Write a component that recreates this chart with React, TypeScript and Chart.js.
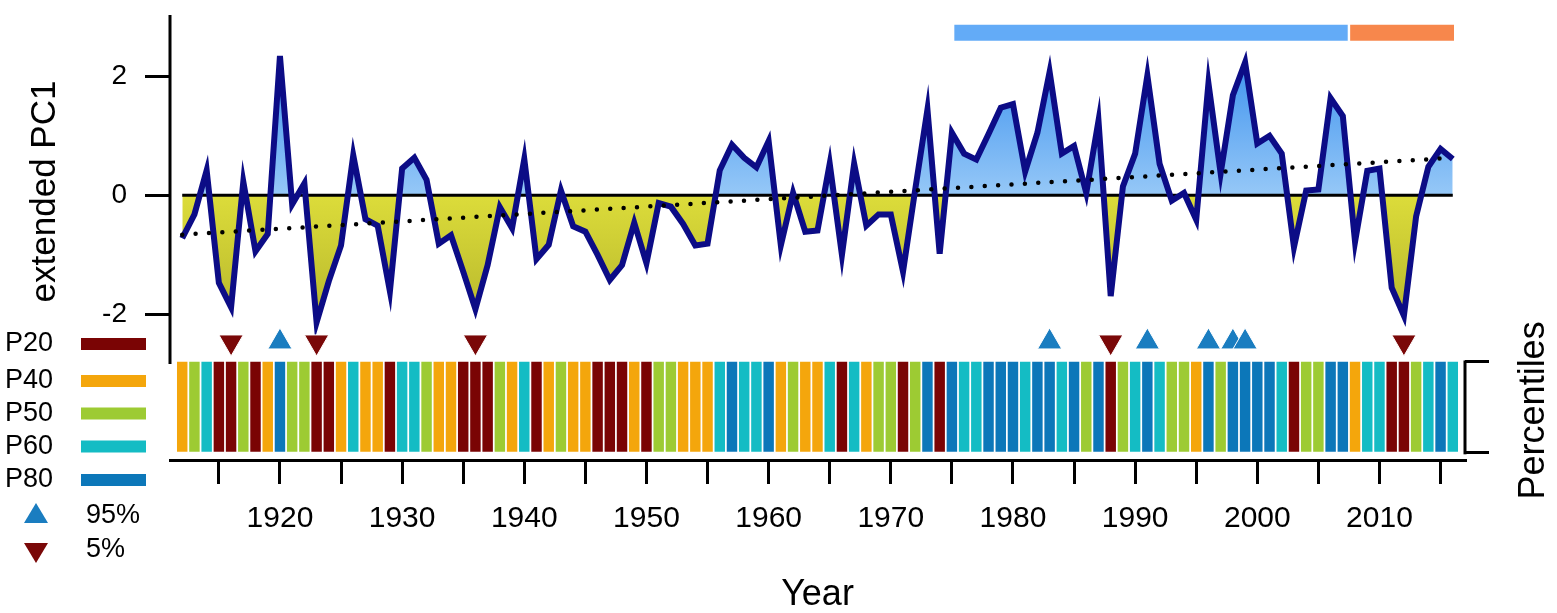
import React, { useEffect, useRef } from "react";
import { Chart, registerables } from "chart.js";

Chart.register(...registerables);

// ---- data ----
const years = [
  1912, 1913, 1914, 1915, 1916, 1917, 1918, 1919, 1920, 1921, 1922, 1923, 1924, 1925, 1926,
  1927, 1928, 1929, 1930, 1931, 1932, 1933, 1934, 1935, 1936, 1937, 1938, 1939, 1940, 1941,
  1942, 1943, 1944, 1945, 1946, 1947, 1948, 1949, 1950, 1951, 1952, 1953, 1954, 1955, 1956,
  1957, 1958, 1959, 1960, 1961, 1962, 1963, 1964, 1965, 1966, 1967, 1968, 1969, 1970, 1971,
  1972, 1973, 1974, 1975, 1976, 1977, 1978, 1979, 1980, 1981, 1982, 1983, 1984, 1985, 1986,
  1987, 1988, 1989, 1990, 1991, 1992, 1993, 1994, 1995, 1996, 1997, 1998, 1999, 2000, 2001,
  2002, 2003, 2004, 2005, 2006, 2007, 2008, 2009, 2010, 2011, 2012, 2013, 2014, 2015, 2016,
];

const pc1 = [
  -0.72, -0.32, 0.42, -1.47, -1.88, 0.23, -0.94, -0.65, 2.34, -0.15, 0.2, -2.13, -1.44, -0.84, 0.67,
  -0.4, -0.51, -1.61, 0.45, 0.63, 0.26, -0.81, -0.67, -1.28, -1.91, -1.17, -0.2, -0.55, 0.61, -1.07,
  -0.83, 0.08, -0.52, -0.61, -1.0, -1.42, -1.17, -0.46, -1.14, -0.13, -0.19, -0.48, -0.84, -0.81, 0.42,
  0.85, 0.63, 0.47, 0.91, -0.84, 0.04, -0.61, -0.59, 0.53, -1.0, 0.53, -0.51, -0.32, -0.32, -1.28,
  0.1, 1.44, -0.98, 1.05, 0.7, 0.6, 1.03, 1.47, 1.53, 0.4, 1.05, 2.07, 0.7, 0.83, 0.04,
  1.25, -1.69, 0.15, 0.7, 2.01, 0.53, -0.09, 0.04, -0.41, 1.88, 0.37, 1.68, 2.23, 0.87, 1.0,
  0.7, -0.87, 0.08, 0.1, 1.63, 1.33, -0.78, 0.41, 0.45, -1.55, -2.02, -0.35, 0.48, 0.78, 0.61,
];

const percentileClass = [
  "P40", "P50", "P60", "P20", "P20", "P50", "P20", "P40", "P80", "P50", "P50", "P20", "P20", "P40", "P60",
  "P40", "P40", "P20", "P60", "P60", "P50", "P40", "P40", "P20", "P20", "P20", "P50", "P40", "P60", "P20",
  "P40", "P50", "P40", "P40", "P20", "P20", "P20", "P40", "P20", "P50", "P50", "P40", "P40", "P40", "P60",
  "P80", "P60", "P60", "P80", "P40", "P50", "P40", "P40", "P60", "P20", "P60", "P40", "P50", "P50", "P20",
  "P50", "P80", "P20", "P80", "P60", "P60", "P80", "P80", "P80", "P60", "P80", "P80", "P60", "P80", "P50",
  "P80", "P20", "P50", "P60", "P80", "P60", "P50", "P50", "P40", "P80", "P50", "P80", "P80", "P80", "P80",
  "P60", "P20", "P50", "P50", "P80", "P80", "P40", "P60", "P60", "P20", "P20", "P50", "P60", "P80", "P60",
];

const pctLabels = ["P20", "P40", "P50", "P60", "P80"];
const upYears = [1920, 1983, 1991, 1996, 1998, 1999];
const downYears = [1916, 1923, 1936, 1988, 2012];
const trendYears = [1912, 2016];
const trendValues = [-0.66, 0.63];
const periodStart = [1975.2, 2007.6];
const periodEnd = [2007.4, 2016.1];
const yTicks = [-2, 0, 2];
const xTicks = [
  1915, 1920, 1925, 1930, 1935, 1940, 1945, 1950, 1955, 1960, 1965,
  1970, 1975, 1980, 1985, 1990, 1995, 2000, 2005, 2010, 2015,
];

// ---- styles ----
const FONT = '"Liberation Sans", Arial, sans-serif';
const pctColors = ["#7a0404", "#f4a60c", "#9dcb33", "#14bcc4", "#0c77b9"];
const periodColors = ["#63abf7", "#f7874c"];
const LINE_COLOR = "#0c0c86";
const UP_COLOR = "#1a7dc0";
const DOWN_COLOR = "#7a0808";
const PERIOD_Y = 2.73;
const MARKER_Y = -2.46;
const Y_AXIS_END = -2.83;

const App: React.FC = () => {
  const canvasRef = useRef<HTMLCanvasElement | null>(null);
  const chartRef = useRef<Chart | null>(null);

  useEffect(() => {
    if (!canvasRef.current) return;

    const decor = {
      id: "decor",
      afterDraw(chart: any) {
        const { ctx, chartArea, scales } = chart;
        const y = scales.y;
        const yp = scales.yp;
        ctx.save();
        ctx.strokeStyle = "#000";
        ctx.lineWidth = 3;
        ctx.lineCap = "butt";

        // left axis of the PC1 panel
        ctx.beginPath();
        ctx.moveTo(chartArea.left, chartArea.top);
        ctx.lineTo(chartArea.left, y.getPixelForValue(Y_AXIS_END));
        ctx.stroke();

        // bracket of the percentile panel
        ctx.beginPath();
        ctx.moveTo(chartArea.right, yp.getPixelForValue(0) + 1.5);
        ctx.lineTo(chartArea.right, yp.getPixelForValue(1) - 1.5);
        ctx.stroke();

        ctx.fillStyle = "#000";
        ctx.textAlign = "center";
        ctx.textBaseline = "middle";

        // y title
        ctx.save();
        ctx.font = `35px ${FONT}`;
        ctx.translate(45, (chartArea.top + y.getPixelForValue(Y_AXIS_END)) / 2 + 2);
        ctx.rotate(-Math.PI / 2);
        ctx.fillText("extended PC1", 0, 0);
        ctx.restore();

        // right title
        ctx.save();
        ctx.font = `36px ${FONT}`;
        ctx.translate(1534, (yp.getPixelForValue(0) + yp.getPixelForValue(1)) / 2 + 3);
        ctx.rotate(-Math.PI / 2);
        ctx.fillText("Percentiles", 0, 0);
        ctx.restore();

        // legend
        const rows = [344, 381, 413.5, 446.5, 480];
        ctx.font = `27px ${FONT}`;
        ctx.textAlign = "left";
        pctLabels.forEach((lab, i) => {
          ctx.fillStyle = "#000";
          ctx.fillText(lab, 5, rows[i]);
          ctx.fillStyle = pctColors[i];
          ctx.fillRect(81, rows[i] - 6, 65, 12);
        });

        ctx.fillStyle = UP_COLOR;
        ctx.beginPath();
        ctx.moveTo(36, 503);
        ctx.lineTo(48, 523);
        ctx.lineTo(24, 523);
        ctx.closePath();
        ctx.fill();

        ctx.fillStyle = DOWN_COLOR;
        ctx.beginPath();
        ctx.moveTo(24, 543);
        ctx.lineTo(48, 543);
        ctx.lineTo(36, 563);
        ctx.closePath();
        ctx.fill();

        ctx.fillStyle = "#000";
        ctx.fillText("95%", 86, 516);
        ctx.fillText("5%", 86, 550);

        ctx.restore();
      },
    };

    const chart = new Chart(canvasRef.current, {
      type: "bar",
      data: {
        datasets: [
          {
            type: "bar",
            yAxisID: "yp",
            data: years.map((yr) => ({ x: yr, y: [0, 1] })),
            backgroundColor: percentileClass.map((c) => pctColors[pctLabels.indexOf(c)]),
            barThickness: 9.8,
            borderWidth: 0,
            grouped: false,
            order: 10,
          },
          {
            type: "line",
            yAxisID: "y",
            data: [
              { x: years[0], y: 0 },
              { x: years[years.length - 1], y: 0 },
            ],
            borderColor: "#000",
            borderWidth: 3,
            pointRadius: 0,
            fill: false,
            order: 3,
          },
          {
            type: "line",
            yAxisID: "y",
            data: years.map((yr, i) => ({ x: yr, y: pc1[i] })),
            borderColor: LINE_COLOR,
            borderWidth: 6,
            pointRadius: 0,
            tension: 0,
            fill: { target: { value: 0 }, above: "#8cc3f6", below: "#d6d63a" },
            order: 2,
          },
          {
            type: "line",
            yAxisID: "y",
            data: trendYears.map((yr, i) => ({ x: yr, y: trendValues[i] })),
            borderColor: "#000",
            borderWidth: 4.5,
            borderDash: [0, 13.4],
            borderCapStyle: "round",
            pointRadius: 0,
            fill: false,
            order: 1,
          },
          ...periodStart.map((s, i) => ({
            type: "line" as const,
            yAxisID: "y",
            data: [
              { x: s, y: PERIOD_Y },
              { x: periodEnd[i], y: PERIOD_Y },
            ],
            borderColor: periodColors[i],
            borderWidth: 16,
            borderCapStyle: "butt" as const,
            pointRadius: 0,
            fill: false,
            order: 0,
          })),
          {
            type: "line",
            yAxisID: "y",
            showLine: false,
            data: upYears.map((yr) => ({ x: yr, y: MARKER_Y })),
            pointStyle: "triangle",
            pointRadius: 14,
            pointHoverRadius: 14,
            pointBackgroundColor: UP_COLOR,
            pointBorderColor: "#ffffff",
            pointBorderWidth: 1,
            order: 0,
          },
          {
            type: "line",
            yAxisID: "y",
            showLine: false,
            data: downYears.map((yr) => ({ x: yr, y: MARKER_Y })),
            pointStyle: "triangle",
            pointRotation: 180,
            pointRadius: 14,
            pointHoverRadius: 14,
            pointBackgroundColor: DOWN_COLOR,
            pointBorderColor: "#ffffff",
            pointBorderWidth: 1,
            order: 0,
          },
        ],
      } as any,
      options: {
        animation: false,
        responsive: true,
        maintainAspectRatio: false,
        events: [],
        layout: { padding: { top: 6, left: 0, right: 0, bottom: 0 } },
        plugins: {
          legend: { display: false },
          tooltip: { enabled: false },
          filler: { drawTime: "beforeDatasetsDraw" },
        },
        scales: {
          x: {
            type: "linear",
            position: "bottom",
            offset: false,
            min: 1911,
            max: 2017,
            afterBuildTicks: (s: any) => {
              s.ticks = xTicks.map((v) => ({ value: v }));
            },
            afterFit: (s: any) => {
              s.height = 153;
              s.paddingLeft = 0;
              s.paddingRight = 0;
            },
            grid: {
              offset: false,
              drawOnChartArea: false,
              drawTicks: true,
              tickLength: 24,
              lineWidth: 3,
              color: "#000",
            },
            border: { display: true, color: "#000", width: 3 },
            ticks: {
              autoSkip: false,
              maxRotation: 0,
              padding: 17,
              color: "#000",
              font: { size: 30, family: FONT },
              callback: (v: any) => (Number(v) % 10 === 0 ? String(v) : ""),
            },
            title: {
              display: true,
              text: "Year",
              color: "#000",
              font: { size: 36, family: FONT, lineHeight: 0.95 },
              padding: { top: 0, bottom: 1 },
            },
          },
          y: {
            type: "linear",
            position: "left",
            min: -4.441,
            max: 3.026,
            afterBuildTicks: (s: any) => {
              s.ticks = yTicks.map((v) => ({ value: v }));
            },
            afterFit: (s: any) => {
              s.width = 170;
              s.paddingTop = 0;
              s.paddingBottom = 0;
            },
            grid: { drawOnChartArea: false, drawTicks: true, tickLength: 25, lineWidth: 3, color: "#000" },
            border: { display: false },
            ticks: {
              padding: 18,
              color: "#000",
              font: { size: 28, family: FONT },
              callback: (v: any) => String(v),
            },
          },
          yp: {
            type: "linear",
            position: "right",
            min: -0.079,
            max: 4.819,
            afterBuildTicks: (s: any) => {
              s.ticks = [{ value: 0 }, { value: 1 }];
            },
            afterFit: (s: any) => {
              s.width = 92;
              s.paddingTop = 0;
              s.paddingBottom = 0;
            },
            grid: { drawOnChartArea: false, drawTicks: true, tickLength: 24, lineWidth: 3, color: "#000" },
            border: { display: false },
            ticks: { display: false },
          },
        },
      } as any,
      plugins: [decor],
    });
    chartRef.current = chart;

    // gradient fills for the PC1 area, anchored on the value scale
    const ys = chart.scales.y;
    const gAbove = chart.ctx.createLinearGradient(0, ys.getPixelForValue(2.4), 0, ys.getPixelForValue(0));
    gAbove.addColorStop(0, "#3a90ee");
    gAbove.addColorStop(1, "#96c8f7");
    const gBelow = chart.ctx.createLinearGradient(0, ys.getPixelForValue(0), 0, ys.getPixelForValue(-2.2));
    gBelow.addColorStop(0, "#dcdc3a");
    gBelow.addColorStop(1, "#b6b62c");
    (chart.data.datasets[2] as any).fill = { target: { value: 0 }, above: gAbove, below: gBelow };
    chart.update();

    return () => chartRef.current?.destroy();
  }, []);

  return (
    <div style={{ position: "fixed", left: 0, top: 0, width: 1557, height: 613, background: "#fff" }}>
      <canvas ref={canvasRef} style={{ width: "100%", height: "100%" }} />
    </div>
  );
};

export default App;
